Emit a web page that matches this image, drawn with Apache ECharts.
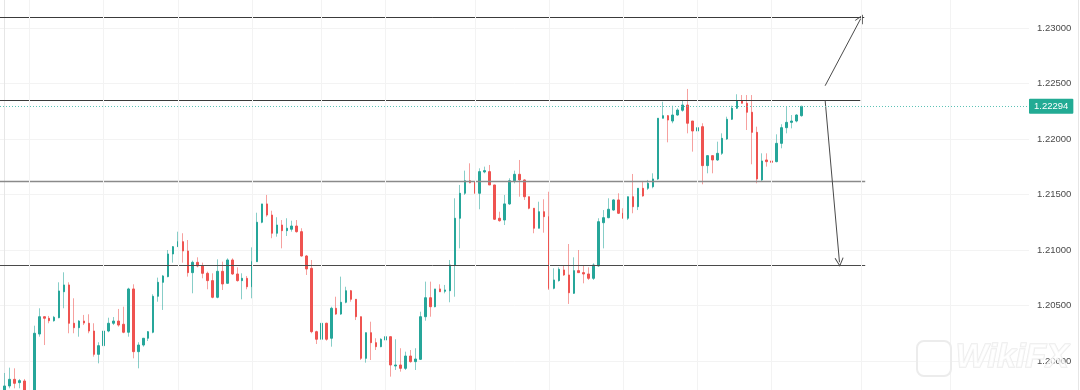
<!DOCTYPE html>
<html><head><meta charset="utf-8">
<script src="https://cdn.jsdelivr.net/npm/echarts@6/dist/echarts.min.js"></script>
<style>html,body{margin:0;padding:0;background:#fff}#c{width:1080px;height:390px}</style>
</head><body><div id="c"></div>
<script>
// ---- candle data (EURUSD-like, oldest -> newest) ----
const opens = [1.19694,1.19775,1.19835,1.19805,1.19820,1.19721,1.19649,1.20243,1.20399,1.20385,
1.20363,1.20390,1.20624,1.20685,1.20340,1.20300,1.20360,1.20340,1.20270,1.20060,
1.20138,1.20270,1.20340,1.20360,1.20331,1.20259,1.20649,1.20084,1.20144,1.20205,
1.20259,1.20583,1.20709,1.20760,1.20964,1.21030,1.21075,1.20991,1.20796,1.20889,
1.20856,1.20790,1.20724,1.20574,1.20808,1.20700,1.20910,1.20784,1.20724,1.20745,
1.20669,1.20895,1.21250,1.21415,1.21315,1.21151,1.21225,1.21174,1.21187,1.21216,
1.21165,1.20946,1.20835,1.20264,1.20196,1.20340,1.20205,1.20475,1.20423,1.20529,
1.20633,1.20556,1.20399,1.20024,1.20255,1.20165,1.20129,1.20189,1.20219,1.19955,
1.19964,1.19934,1.20045,1.19994,1.20015,1.20399,1.20570,1.20489,1.20649,1.20628,
1.20633,1.20865,1.21286,1.21511,1.21624,1.21615,1.21511,1.21703,1.21706,1.21586,
1.21286,1.21270,1.21415,1.21624,1.21682,1.21631,1.21480,1.21376,1.21196,1.21345,
1.21300,1.20655,1.20724,1.20820,1.20775,1.20610,1.20814,1.20796,1.20784,1.20745,
1.20856,1.21246,1.21291,1.21360,1.21451,1.21331,1.21286,1.21480,1.21390,1.21556,
1.21556,1.21570,1.21640,1.22187,1.22210,1.22162,1.22216,1.22259,1.22306,1.22162,
1.22072,1.22111,1.21760,1.21850,1.21811,1.21871,1.22000,1.22178,1.22277,1.22342,
1.22322,1.22241,1.22060,1.21631,1.21811,1.21802,1.21796,1.21961,1.22102,1.22150,
1.22162,1.22210];
const highs = [1.19892,1.19940,1.19934,1.19838,1.19838,1.19730,1.20318,1.20475,1.20399,1.20406,
1.20406,1.20709,1.20799,1.20709,1.20565,1.20369,1.20415,1.20421,1.20340,1.20169,
1.20270,1.20390,1.20396,1.20469,1.20489,1.20660,1.20691,1.20169,1.20205,1.20270,
1.20601,1.20751,1.20775,1.21000,1.21036,1.21165,1.21151,1.21090,1.20904,1.20934,
1.20886,1.20805,1.20790,1.20916,1.20895,1.20925,1.20925,1.20844,1.20790,1.20766,
1.21024,1.21336,1.21415,1.21496,1.21354,1.21295,1.21270,1.21286,1.21264,1.21270,
1.21196,1.20955,1.20910,1.20273,1.20345,1.20345,1.20489,1.20579,1.20760,1.20669,
1.20640,1.20556,1.20399,1.20255,1.20354,1.20205,1.20205,1.20264,1.20219,1.20196,
1.20115,1.20084,1.20099,1.20115,1.20444,1.20715,1.20715,1.20649,1.20691,1.20685,
1.20910,1.21466,1.21586,1.21715,1.21781,1.21615,1.21736,1.21751,1.21766,1.21586,
1.21345,1.21496,1.21646,1.21715,1.21811,1.21637,1.21480,1.21376,1.21435,1.21457,
1.21525,1.20835,1.20844,1.20865,1.21054,1.20934,1.21000,1.20865,1.20844,1.20880,
1.21286,1.21360,1.21466,1.21457,1.21511,1.21376,1.21480,1.21685,1.21556,1.21615,
1.21631,1.21691,1.22187,1.22336,1.22216,1.22300,1.22277,1.22351,1.22451,1.22162,
1.22396,1.22142,1.21850,1.21850,1.21976,1.22051,1.22201,1.22300,1.22403,1.22396,
1.22396,1.22396,1.22111,1.21871,1.21871,1.21841,1.22042,1.22133,1.22291,1.22216,
1.22223,1.22300];
const lows = [1.19667,1.19754,1.19754,1.19754,1.19694,1.19604,1.19631,1.20219,1.20144,1.20340,
1.20354,1.20385,1.20475,1.20250,1.20250,1.20219,1.20324,1.20250,1.20039,1.19979,
1.19988,1.20259,1.20324,1.20309,1.20250,1.20219,1.20024,1.19934,1.20129,1.20180,
1.20250,1.20534,1.20460,1.20754,1.20886,1.21030,1.20886,1.20760,1.20610,1.20844,
1.20745,1.20646,1.20565,1.20565,1.20640,1.20700,1.20775,1.20715,1.20556,1.20646,
1.20565,1.20895,1.21241,1.21300,1.21106,1.21120,1.21015,1.21126,1.21165,1.21156,
1.20940,1.20775,1.20250,1.20153,1.20189,1.20183,1.20129,1.20415,1.20415,1.20520,
1.20534,1.20369,1.20009,1.19985,1.20009,1.20099,1.20124,1.20189,1.19859,1.19919,
1.19904,1.19919,1.19985,1.19919,1.20009,1.20363,1.20399,1.20484,1.20624,1.20610,
1.20529,1.20579,1.21015,1.21496,1.21601,1.21511,1.21367,1.21691,1.21586,1.21270,
1.21255,1.21225,1.21406,1.21601,1.21480,1.21451,1.21367,1.21151,1.21196,1.21156,
1.20640,1.20646,1.20715,1.20766,1.20514,1.20604,1.20796,1.20700,1.20730,1.20730,
1.20850,1.21015,1.21286,1.21354,1.21324,1.21286,1.21270,1.21331,1.21360,1.21480,
1.21541,1.21556,1.21631,1.22187,1.21970,1.22142,1.22210,1.22246,1.22051,1.21886,
1.22036,1.21592,1.21691,1.21691,1.21802,1.21856,1.21991,1.22171,1.22270,1.22322,
1.22081,1.21772,1.21601,1.21615,1.21751,1.21742,1.21790,1.21916,1.22051,1.22096,
1.22150,1.22201];
const closes = [1.19775,1.19835,1.19799,1.19823,1.19721,1.19649,1.20250,1.20399,1.20385,1.20363,
1.20394,1.20631,1.20685,1.20340,1.20300,1.20360,1.20342,1.20270,1.20060,1.20138,
1.20270,1.20340,1.20360,1.20324,1.20259,1.20649,1.20084,1.20144,1.20205,1.20264,
1.20583,1.20709,1.20766,1.20964,1.21030,1.21075,1.20991,1.20796,1.20889,1.20856,
1.20790,1.20724,1.20574,1.20808,1.20694,1.20910,1.20784,1.20724,1.20745,1.20669,
1.20895,1.21250,1.21415,1.21315,1.21151,1.21225,1.21174,1.21196,1.21216,1.21165,
1.20946,1.20829,1.20264,1.20196,1.20340,1.20196,1.20475,1.20423,1.20529,1.20633,
1.20556,1.20399,1.20024,1.20255,1.20165,1.20129,1.20196,1.20219,1.19964,1.19964,
1.19934,1.20045,1.19994,1.20018,1.20399,1.20570,1.20489,1.20649,1.20624,1.20640,
1.20865,1.21286,1.21511,1.21624,1.21606,1.21511,1.21706,1.21715,1.21586,1.21277,
1.21264,1.21415,1.21624,1.21682,1.21631,1.21480,1.21376,1.21196,1.21345,1.21300,
1.20655,1.20730,1.20826,1.20775,1.20615,1.20814,1.20796,1.20784,1.20745,1.20865,
1.21255,1.21291,1.21367,1.21451,1.21331,1.21286,1.21480,1.21390,1.21556,1.21487,
1.21601,1.21640,1.22187,1.22210,1.22171,1.22216,1.22261,1.22306,1.22142,1.22072,
1.22102,1.21760,1.21850,1.21811,1.21871,1.22006,1.22178,1.22277,1.22342,1.22322,
1.22241,1.22060,1.21640,1.21802,1.21796,1.21790,1.21961,1.22102,1.22150,1.22162,
1.22216,1.22294];

// price-scale ticks
const priceMin = 1.195, priceMax = 1.235, priceStep = 0.005;
// bar-index range shown (includes empty future space on the right)
const barMin = -0.95, barMax = 207.0;
// day separators (bar index)
const daySeparators = [5, 20, 35, 50, 64, 77, 95, 110, 125, 140, 155, 173, 191];
// drawn horizontal levels: value and end bar index
const levelValues = [1.23099, 1.22349, 1.21615, 1.20859];
const levelEnds   = [173.7, 172.9, 173.9, 173.9];
// drawn arrows: [[startBar, startPrice], [endBar, endPrice]]
const arrows = [
  [[165.8, 1.22480], [173.0, 1.23085]],
  [[165.8, 1.22349], [168.7, 1.20890]]
];

const lastClose = closes[closes.length - 1];
const wickData = opens.map((o, i) => [i, o, closes[i], lows[i], highs[i]]);
const bodyData = opens.map((o, i) => [i, o, closes[i], Math.min(o, closes[i]), Math.max(o, closes[i])]);

const UP = '#26a69a', DOWN = '#ef5350';
const levelStyles = [
  {color: '#3a3a3a', width: 1},
  {color: '#3a3a3a', width: 1.2},
  {color: '#8a8a8a', width: 1.3},
  {color: '#4a4a4a', width: 1}
];
const chevron = 'path://M0,10 L5,0 L10,10 L9,10.4 L5,2.2 L1,10.4 Z';

const chart = echarts.init(document.getElementById('c'), null, {renderer: 'canvas'});
chart.setOption({
  animation: false,
  backgroundColor: '#ffffff',
  grid: {left: 0, right: 51, top: -27.5, height: 444, containLabel: false, outerBoundsMode: 'none'},
  xAxis: {
    type: 'value', min: barMin, max: barMax,
    axisLine: {show: false}, axisTick: {show: false}, axisLabel: {show: false},
    splitLine: {show: false}
  },
  yAxis: {
    type: 'value', position: 'right', min: priceMin, max: priceMax, interval: priceStep,
    axisLine: {show: true, lineStyle: {color: '#e6e6e6', width: 1}},
    axisTick: {show: false},
    axisLabel: {
      margin: 8, color: '#4a4a4a', fontSize: 9.5, fontFamily: 'Liberation Sans, Arial, sans-serif',
      formatter: v => v.toFixed(5)
    },
    splitLine: {show: true, lineStyle: {color: '#f3f3f3', width: 1}}
  },
  series: [
    {
      type: 'line', data: [], z: 1, silent: true,
      markLine: {
        silent: true, symbol: 'none', animation: false, precision: 3,
        label: {show: false},
        lineStyle: {color: '#f3f3f3', width: 1, type: 'solid'},
        data: daySeparators.map(x => ({xAxis: x}))
      }
    },
    {
      type: 'candlestick', name: 'wick', z: 2, barWidth: 1, silent: true,
      data: wickData,
      itemStyle: {
        color: 'rgba(38,166,154,0.55)', color0: 'rgba(239,83,80,0.55)',
        borderColor: 'rgba(38,166,154,0.55)', borderColor0: 'rgba(239,83,80,0.55)', borderWidth: 1
      }
    },
    {
      type: 'candlestick', name: 'body', z: 3, barWidth: 2, silent: true,
      data: bodyData,
      itemStyle: {color: UP, color0: DOWN, borderColor: UP, borderColor0: DOWN, borderWidth: 1}
    },
    {
      type: 'line', data: [], z: 5, silent: true,
      markLine: {
        silent: true, symbol: 'none', animation: false, precision: 5,
        lineStyle: {color: '#5cc2b6', type: [1, 2], width: 1, opacity: 1},
        label: {
          show: true, position: 'end', distance: 0,
          formatter: () => lastClose.toFixed(5),
          backgroundColor: '#22ab94', color: '#ffffff', fontSize: 9.5,
          fontFamily: 'Liberation Sans, Arial, sans-serif',
          padding: [3, 5, 2, 5], borderRadius: 1
        },
        data: [{yAxis: lastClose}]
      }
    },
    {
      type: 'lines', coordinateSystem: 'cartesian2d', z: 4, silent: true, symbol: 'none',
      data: levelValues.map((v, i) => ({
        coords: [[barMin, v], [levelEnds[i], v]],
        lineStyle: levelStyles[i]
      })),
      lineStyle: {opacity: 1}
    },
    {
      type: 'lines', coordinateSystem: 'cartesian2d', z: 4, silent: true,
      symbol: ['none', chevron], symbolSize: [9, 9],
      lineStyle: {color: '#4a4a4a', width: 1, opacity: 1},
      data: arrows.map(a => ({coords: a}))
    }
  ],
  graphic: [
    {type: 'line', shape: {x1: 1078.5, y1: 0, x2: 1078.5, y2: 390}, style: {stroke: '#e6e6e6', lineWidth: 1}, silent: true},
    {type: 'rect', shape: {x: 917, y: 341, width: 34, height: 35, r: 7}, style: {fill: 'rgba(255,255,255,0.6)', stroke: '#ececec', lineWidth: 2}, silent: true, z: 100},
    {type: 'text', left: 955, top: 340, style: {text: 'WikiFX', font: 'bold italic 34px Liberation Sans, Arial, sans-serif', fill: 'rgba(255,255,255,0.6)', stroke: '#ececec', lineWidth: 1.5}, silent: true, z: 100}
  ]
});
</script>
</body></html>
